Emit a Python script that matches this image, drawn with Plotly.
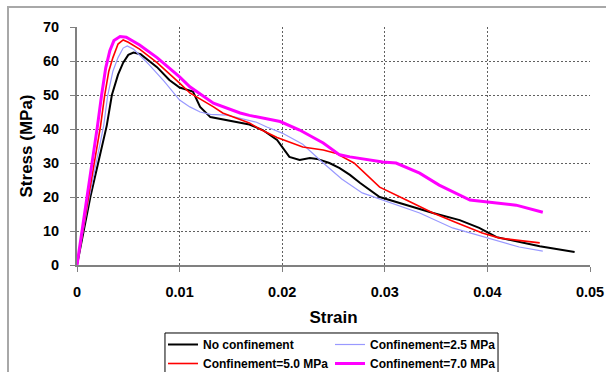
import plotly.graph_objects as go

# ---- data ----
strain_none = [0, 0.0013, 0.0029, 0.0034, 0.004, 0.0045, 0.005, 0.0055, 0.0062, 0.0078, 0.009,
               0.010, 0.0113, 0.012, 0.013, 0.0139, 0.0159, 0.0168, 0.0181, 0.0195, 0.0207,
               0.0217, 0.0227, 0.0234, 0.0246, 0.0256, 0.0266, 0.0276, 0.0295, 0.0321, 0.0347,
               0.0373, 0.0392, 0.0409, 0.0431, 0.0451, 0.0485]
stress_none = [0, 20, 41, 50, 56, 59.5, 61.8, 62.5, 62, 58.2, 54.4,
               52.2, 51, 46.5, 43.5, 43, 41.8, 41.3, 39.7, 36.8, 31.8,
               30.9, 31.5, 31.2, 30, 28.5, 26.5, 24.1, 20, 17.6, 15.3,
               13.2, 10.9, 8.2, 6.8, 5.5, 3.8]

strain_25 = [0, 0.0012, 0.0026, 0.003, 0.0035, 0.004, 0.0045, 0.0049, 0.0055, 0.007, 0.0085,
             0.0095, 0.010, 0.011, 0.012, 0.013, 0.0146, 0.0175, 0.0185, 0.020, 0.022, 0.024,
             0.0258, 0.0278, 0.0298, 0.0321, 0.0334, 0.0366, 0.0398, 0.0431, 0.0454]
stress_25 = [0, 20, 41, 50, 57, 61, 63.8, 64.4, 63.5, 59, 54,
             50.5, 48.5, 46.5, 45, 44.3, 44.1, 42, 40.6, 38.8, 35.5, 30,
             25.3, 21.2, 19.1, 16.8, 15.3, 10.9, 8.2, 5.3, 4.1]

strain_50 = [0, 0.0011, 0.0023, 0.0027, 0.0031, 0.0035, 0.004, 0.0045, 0.005, 0.0061, 0.0078,
             0.010, 0.011, 0.0133, 0.0142, 0.0168, 0.0178, 0.0195, 0.0207, 0.022, 0.024,
             0.0252, 0.027, 0.0295, 0.0321, 0.0347, 0.037, 0.0395, 0.0412, 0.0451]
stress_50 = [0, 20, 41, 50, 57, 61, 65, 66.2, 65.5, 63.5, 59.5,
             53.5, 50.6, 46.5, 44.7, 41.8, 40, 37.5, 36.2, 34.7, 33.8,
             32.9, 30, 22.9, 19.1, 15.3, 12.4, 9.4, 7.9, 6.5]

strain_70 = [0, 0.001, 0.002, 0.0024, 0.0028, 0.0032, 0.0036, 0.0042, 0.0048, 0.0061, 0.0078,
             0.010, 0.011, 0.0133, 0.0159, 0.0168, 0.0198, 0.0217, 0.024, 0.0256, 0.0266,
             0.0298, 0.0311, 0.0334, 0.0353, 0.0383, 0.0399, 0.0428, 0.0454]
stress_70 = [0, 20, 41, 50, 58, 63, 66, 67.2, 67, 64.7, 61,
             55.3, 52.4, 47.6, 44.7, 44, 42.2, 39.7, 35.9, 32.4, 31.8,
             30.3, 30, 27, 23.5, 19.1, 18.5, 17.6, 15.5]

x_ticks = [0, 0.01, 0.02, 0.03, 0.04, 0.05]
x_ticklabels = ["0", "0.01", "0.02", "0.03", "0.04", "0.05"]
y_ticks = [0, 10, 20, 30, 40, 50, 60, 70]

FONT = "Arial, 'Liberation Sans', sans-serif"

fig = go.Figure()
fig.add_trace(go.Scatter(x=strain_none, y=stress_none, mode="lines", name="No confinement",
                         line=dict(color="#000000", width=2), legend="legend"))
fig.add_trace(go.Scatter(x=strain_25, y=stress_25, mode="lines", name="Confinement=2.5 MPa",
                         line=dict(color="#9999FF", width=1.2), legend="legend2"))
fig.add_trace(go.Scatter(x=strain_50, y=stress_50, mode="lines", name="Confinement=5.0 MPa",
                         line=dict(color="#FF0000", width=1.6), legend="legend"))
fig.add_trace(go.Scatter(x=strain_70, y=stress_70, mode="lines", name="Confinement=7.0 MPa",
                         line=dict(color="#FF00FF", width=3), legend="legend2"))

axis_common = dict(
    showline=True, linecolor="#808080", linewidth=2,
    showgrid=True, gridcolor="#606060", gridwidth=1, griddash="2px,2px",
    zeroline=False, ticks="outside", ticklen=5, tickcolor="#808080", tickwidth=1,
    tickfont=dict(family=FONT, size=14.5, color="#000000", weight="bold"),
)

fig.update_xaxes(range=[0, 0.05], tickvals=x_ticks, ticktext=x_ticklabels,
                 ticklabelstandoff=8,
                 title=dict(text="Strain", font=dict(family=FONT, size=17, color="#000000", weight="bold"),
                            standoff=12),
                 **axis_common)
fig.update_yaxes(range=[0, 70], tickvals=y_ticks,
                 ticklabelstandoff=8,
                 title=dict(text="Stress (MPa)", font=dict(family=FONT, size=17, color="#000000", weight="bold"),
                            standoff=6),
                 **axis_common)

legend_font = dict(family=FONT, size=12, color="#000000", weight="bold")
fig.update_layout(
    width=606, height=372,
    margin=dict(l=77, r=16, t=27, b=107, autoexpand=False),
    paper_bgcolor="white", plot_bgcolor="white",
    showlegend=True,
    legend=dict(x=0.1676, y=-0.2731, xanchor="left", yanchor="top", orientation="v",
                bgcolor="rgba(0,0,0,0)", borderwidth=0, font=legend_font, tracegroupgap=0),
    legend2=dict(x=0.4932, y=-0.2731, xanchor="left", yanchor="top", orientation="v",
                 bgcolor="rgba(0,0,0,0)", borderwidth=0, font=legend_font, tracegroupgap=0),
    shapes=[
        # outer chart border
        dict(type="rect", xref="paper", yref="paper", x0=-0.1345, x1=1.06, y0=-0.55, y1=1.084,
             line=dict(color="#A8A8A8", width=2), fillcolor="rgba(0,0,0,0)", layer="below"),
        # legend box
        dict(type="rect", xref="paper", yref="paper", x0=0.1715, x1=0.8207, y0=-0.50, y1=-0.2857,
             line=dict(color="#000000", width=1), fillcolor="rgba(0,0,0,0)", layer="above"),
    ],
)

fig.write_html("out.html")
